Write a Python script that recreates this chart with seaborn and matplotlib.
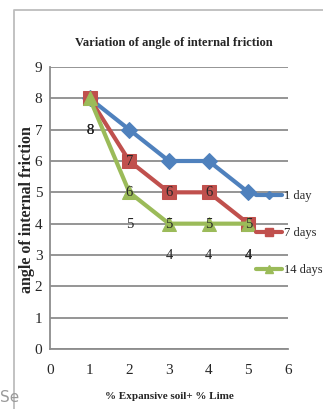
import pandas as pd
import matplotlib.pyplot as plt
import seaborn as sns
from matplotlib.lines import Line2D

# data
mix = [1, 2, 3, 4, 5]
day_1 = [8, 7, 6, 6, 5]
days_7 = [8, 6, 5, 5, 4]
days_14 = [8, 5, 4, 4, 4]
series_names = ["1 day", "7 days", "14 days"]
x_ticks = [0, 1, 2, 3, 4, 5, 6]
y_ticks = [0, 1, 2, 3, 4, 5, 6, 7, 8, 9]

sns.set_style("white")
plt.rcParams['font.family'] = ['Liberation Serif', 'DejaVu Serif']

colors = ["#4F81BD", "#C0504D", "#9BBB59"]
markers = ["D", "s", "^"]
msizes = [8, 10, 10]

fig = plt.figure(figsize=(3.23, 4.09), dpi=100)
ax = fig.add_axes([50/323, 1-349/409, (288-50)/323, (349-67)/409])

for name, vals, col, mk, ms in zip(series_names, [day_1, days_7, days_14], colors, markers, msizes):
    sns.lineplot(x=mix, y=vals, ax=ax, color=col, marker=mk, markersize=ms,
                 markeredgecolor=col, linewidth=3, legend=False)

# data labels (sit one step below the points in the original)
for vals in [day_1, days_7, days_14]:
    for x, v in zip(mix, vals):
        ax.annotate(str(v), (x, v), xytext=(0, -23), textcoords="offset points",
                    ha="center", va="center", fontsize=10.5, zorder=10)

ax.set_xlim(0, 6)
ax.set_ylim(0, 9)
ax.set_xticks(x_ticks)
ax.set_yticks(y_ticks)
ax.yaxis.grid(True, color="#8c8c8c", linewidth=1.3)
for s in ["top", "right"]:
    ax.spines[s].set_visible(False)
for s in ["left", "bottom"]:
    ax.spines[s].set_color("#8c8c8c")
    ax.spines[s].set_linewidth(1.3)
ax.tick_params(axis="both", which="major", direction="out", length=4, width=1,
               color="#8c8c8c", labelsize=11)
ax.tick_params(axis="y", pad=1.5)
ax.tick_params(axis="x", pad=7)

ax.set_xlabel("% Expansive soil+ % Lime", fontsize=8, fontweight="bold")
ax.xaxis.set_label_coords(0.5, (349-392)/282)
ax.set_ylabel("angle of internal friction", fontsize=11.5, fontweight="bold")
ax.yaxis.set_label_coords((35-50)/238, (349-210)/282)
fig.text(174/323, 1-43/409, "Variation of angle of internal friction",
         ha="center", va="center", fontsize=9, fontweight="bold")

handles = [Line2D([], [], color=c, linewidth=3, marker=m, markersize=s * 0.55,
                  markeredgecolor=c) for c, m, s in zip(colors, markers, msizes)]
leg = fig.legend(handles, series_names, loc="upper left",
                 bbox_to_anchor=(256/323, 1-190/409), frameon=False, fontsize=9,
                 handlelength=2.1, handletextpad=0.1, labelspacing=2.0,
                 borderpad=0, borderaxespad=0, numpoints=1)

# outer frame and the cut-off text at bottom left
fig.add_artist(Line2D([14/323, 14/323, 1], [0, 1-10/409, 1-10/409],
                      transform=fig.transFigure, color="#bdbdbd", linewidth=1.3))
fig.text(0, 1-397/409, "Se", fontsize=11, color="#9a9a9a", family="DejaVu Sans",
         va="center", ha="left")

plt.savefig("out.png", dpi=100)
